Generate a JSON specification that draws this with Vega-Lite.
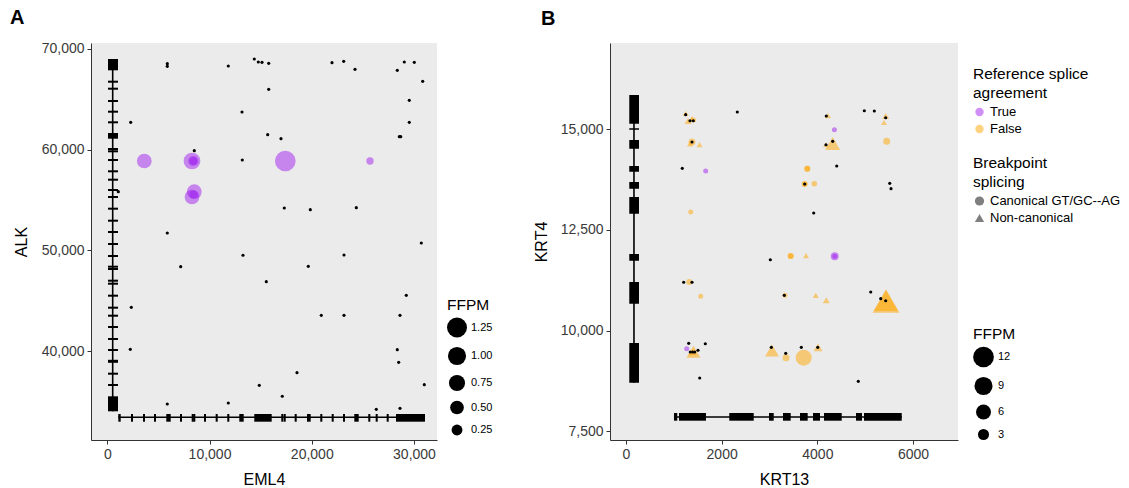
{
  "$schema": "https://vega.github.io/schema/vega-lite/v6.json",
  "padding": {"left": 10, "top": 7, "right": 0, "bottom": 0},
  "spacing": 173,
  "bounds": "flush",
  "config": {
    "view": {"fill": "#EBEBEB", "stroke": null},
    "font": "Liberation Sans",
    "axis": {"grid": false, "domainColor": "#333333", "domainWidth": 1, "tickColor": "#333333", "tickSize": 4, "labelColor": "#3A3A3A", "labelFontSize": 14, "labelPadding": 3, "titleFontSize": 16, "titleFontWeight": "normal", "titleColor": "#000000"},
    "legend": {"titleFontSize": 15.5, "titleFontWeight": "normal", "titleColor": "#000000", "labelColor": "#000000", "titleLineHeight": 19, "titlePadding": 4},
    "title": {"fontSize": 20, "fontWeight": "bold", "anchor": "start", "frame": "group", "color": "#000000"}
  },
  "resolve": {"scale": {"size": "independent", "x": "independent", "y": "independent", "color": "independent", "shape": "independent"}, "legend": {"size": "independent", "color": "independent", "shape": "independent"}},
  "datasets": {
    "a_dots": [
      {"x":5869,"y":68540},{"x":5869,"y":68282},{"x":11836,"y":68311},{"x":14379,"y":69007},{"x":14771,"y":68709},{"x":15133,"y":68679},{"x":15788,"y":68580},{"x":21980,"y":68639},{"x":23124,"y":68778},{"x":24230,"y":67983},{"x":28367,"y":67884},{"x":29052,"y":68709},{"x":30030,"y":68679},{"x":30852,"y":66791},{"x":15788,"y":65997},{"x":13176,"y":63742},{"x":29541,"y":64904},{"x":2289,"y":62719},{"x":29541,"y":62719},{"x":15690,"y":61487},{"x":16991,"y":61090},{"x":28566,"y":61289},{"x":28703,"y":61289},{"x":8510,"y":59898},{"x":13206,"y":58974},{"x":1076,"y":55825},{"x":17314,"y":54207},{"x":19857,"y":54037},{"x":24357,"y":54236},{"x":5869,"y":51722},{"x":30715,"y":50729},{"x":13274,"y":49508},{"x":23154,"y":49537},{"x":7180,"y":48375},{"x":19662,"y":48415},{"x":15553,"y":46885},{"x":29248,"y":45534},{"x":2348,"y":44342},{"x":20933,"y":43547},{"x":23154,"y":43547},{"x":28631,"y":43547},{"x":2250,"y":40170},{"x":28367,"y":40130},{"x":28504,"y":38878},{"x":18556,"y":37846},{"x":14868,"y":36594},{"x":31008,"y":36654},{"x":17118,"y":35502},{"x":5869,"y":34737},{"x":11836,"y":34836},{"x":26313,"y":34210},{"x":28631,"y":34309}
    ],
    "a_fus": [
      {"x":3619,"y":58875,"ffpm":0.6,"agree":"True"},{"x":8285,"y":58875,"ffpm":0.82,"agree":"True"},{"x":8412,"y":58875,"ffpm":0.2,"agree":"True"},{"x":8412,"y":58875,"ffpm":0.04,"agree":"True"},{"x":17412,"y":58875,"ffpm":1.35,"agree":"True"},{"x":25697,"y":58875,"ffpm":0.02,"agree":"True"},{"x":8510,"y":55825,"ffpm":0.6,"agree":"True"},{"x":8285,"y":55298,"ffpm":0.6,"agree":"True"},{"x":8450,"y":55550,"ffpm":0.06,"agree":"True"}
    ],
    "a_alk": [
      {"s":67884,"e":69007},{"s":66652,"e":66852},{"s":65956,"e":66156},{"s":64735,"e":64935},{"s":63672,"e":63872},{"s":62619,"e":62819},{"s":61090,"e":61656},{"s":59967,"e":60167},{"s":59738,"e":59938},{"s":58874,"e":59074},{"s":57751,"e":57951},{"s":56917,"e":57117},{"s":55894,"e":56094},{"s":55198,"e":55398},{"s":54037,"e":54237},{"s":52845,"e":53045},{"s":51722,"e":51922},{"s":50530,"e":50730},{"s":49338,"e":49538},{"s":48275,"e":48475},{"s":48047,"e":48247},{"s":46884,"e":47084},{"s":46586,"e":46786},{"s":45395,"e":45595},{"s":44203,"e":44403},{"s":43408,"e":43608},{"s":42286,"e":42486},{"s":41094,"e":41294},{"s":40001,"e":40201},{"s":38828,"e":39128},{"s":37647,"e":37847},{"s":36524,"e":36724},{"s":34011,"e":35500}
    ],
    "a_eml4": [
      {"s":1076,"e":1311},{"s":2316,"e":2516},{"s":3490,"e":3690},{"s":4566,"e":4766},{"s":5771,"e":6202},{"s":7109,"e":7309},{"s":8254,"e":8454},{"s":8410,"e":8610},{"s":9457,"e":9657},{"s":10601,"e":10801},{"s":11736,"e":11936},{"s":12912,"e":13343},{"s":14379,"e":16081},{"s":17018,"e":17218},{"s":17253,"e":17453},{"s":18329,"e":18529},{"s":19534,"e":19896},{"s":20833,"e":21033},{"s":21948,"e":22148},{"s":23054,"e":23254},{"s":24161,"e":24592},{"s":25528,"e":25728},{"s":26252,"e":26452},{"s":27328,"e":27528},{"s":28240,"e":31077}
    ],
    "b_dots": [
      {"x":1248,"y":15355},{"x":1338,"y":15206},{"x":1407,"y":15206},{"x":2327,"y":15422},{"x":1380,"y":14677},{"x":1177,"y":14025},{"x":4187,"y":15323},{"x":4321,"y":14695},{"x":4181,"y":14610},{"x":4982,"y":15454},{"x":5191,"y":15447},{"x":5429,"y":15280},{"x":4405,"y":14082},{"x":3736,"y":13635},{"x":5513,"y":13653},{"x":5540,"y":13519},{"x":3924,"y":12916},{"x":3017,"y":11757},{"x":1206,"y":11197},{"x":1380,"y":11197},{"x":3309,"y":10874},{"x":5116,"y":10956},{"x":5325,"y":10790},{"x":5429,"y":10740},{"x":1311,"y":9683},{"x":1658,"y":9673},{"x":1344,"y":9467},{"x":1394,"y":9467},{"x":1436,"y":9467},{"x":1505,"y":9510},{"x":3038,"y":9584},{"x":3339,"y":9435},{"x":3665,"y":9584},{"x":4008,"y":9584},{"x":1541,"y":8822},{"x":4856,"y":8740}
    ],
    "b_fus": [
      {"x":1248,"y":15385,"ffpm":0.47,"agree":"False","splice":"Non-canonical"},
      {"x":1296,"y":15198,"ffpm":0.85,"agree":"False","splice":"Non-canonical"},
      {"x":1380,"y":15248,"ffpm":0.85,"agree":"False","splice":"Non-canonical"},
      {"x":1411,"y":15223,"ffpm":0.15,"agree":"False","splice":"Canonical GT/GC--AG"},
      {"x":1380,"y":14677,"ffpm":0.85,"agree":"False","splice":"Canonical GT/GC--AG"},
      {"x":1338,"y":14628,"ffpm":0.47,"agree":"False","splice":"Non-canonical"},
      {"x":1537,"y":14615,"ffpm":0.47,"agree":"False","splice":"Non-canonical"},
      {"x":1666,"y":13958,"ffpm":0.15,"agree":"True","splice":"Canonical GT/GC--AG"},
      {"x":1353,"y":12941,"ffpm":0.15,"agree":"False","splice":"Canonical GT/GC--AG"},
      {"x":4223,"y":15330,"ffpm":0.47,"agree":"False","splice":"Non-canonical"},
      {"x":4357,"y":14983,"ffpm":0.15,"agree":"True","splice":"Canonical GT/GC--AG"},
      {"x":4321,"y":14640,"ffpm":6.0,"agree":"False","splice":"Non-canonical"},
      {"x":4181,"y":14610,"ffpm":0.47,"agree":"False","splice":"Non-canonical"},
      {"x":5429,"y":15323,"ffpm":0.85,"agree":"False","splice":"Non-canonical"},
      {"x":5394,"y":15161,"ffpm":0.47,"agree":"False","splice":"Non-canonical"},
      {"x":5450,"y":14695,"ffpm":0.85,"agree":"False","splice":"Canonical GT/GC--AG"},
      {"x":3790,"y":14015,"ffpm":0.47,"agree":"False","splice":"Canonical GT/GC--AG"},
      {"x":3790,"y":14015,"ffpm":0.37,"agree":"False","splice":"Canonical GT/GC--AG"},
      {"x":3736,"y":13635,"ffpm":0.47,"agree":"False","splice":"Canonical GT/GC--AG"},
      {"x":3736,"y":13635,"ffpm":0.18,"agree":"False","splice":"Canonical GT/GC--AG"},
      {"x":3936,"y":13643,"ffpm":0.3,"agree":"False","splice":"Canonical GT/GC--AG"},
      {"x":3443,"y":11849,"ffpm":0.47,"agree":"False","splice":"Canonical GT/GC--AG"},
      {"x":3443,"y":11849,"ffpm":0.37,"agree":"False","splice":"Canonical GT/GC--AG"},
      {"x":3763,"y":11857,"ffpm":0.47,"agree":"False","splice":"Non-canonical"},
      {"x":4363,"y":11842,"ffpm":1.29,"agree":"True","splice":"Canonical GT/GC--AG"},
      {"x":4363,"y":11842,"ffpm":0.15,"agree":"True","splice":"Canonical GT/GC--AG"},
      {"x":1323,"y":11204,"ffpm":0.47,"agree":"False","splice":"Canonical GT/GC--AG"},
      {"x":1562,"y":10849,"ffpm":0.15,"agree":"False","splice":"Canonical GT/GC--AG"},
      {"x":3324,"y":10874,"ffpm":0.15,"agree":"False","splice":"Canonical GT/GC--AG"},
      {"x":3966,"y":10874,"ffpm":0.47,"agree":"False","splice":"Non-canonical"},
      {"x":4187,"y":10750,"ffpm":0.85,"agree":"False","splice":"Non-canonical"},
      {"x":5435,"y":10733,"ffpm":20.75,"agree":"False","splice":"Non-canonical"},
      {"x":5435,"y":10740,"ffpm":16.3,"agree":"False","splice":"Non-canonical"},
      {"x":1269,"y":9549,"ffpm":0.15,"agree":"True","splice":"Canonical GT/GC--AG"},
      {"x":1411,"y":9475,"ffpm":5.15,"agree":"False","splice":"Non-canonical"},
      {"x":1390,"y":9470,"ffpm":1.29,"agree":"False","splice":"Non-canonical"},
      {"x":3052,"y":9505,"ffpm":5.15,"agree":"False","splice":"Non-canonical"},
      {"x":3345,"y":9326,"ffpm":0.85,"agree":"False","splice":"Canonical GT/GC--AG"},
      {"x":3715,"y":9326,"ffpm":6.9,"agree":"False","splice":"Canonical GT/GC--AG"},
      {"x":4014,"y":9580,"ffpm":1.79,"agree":"False","splice":"Non-canonical"}
    ],
    "b_krt4": [
      {"s":15131,"e":15844},{"s":14983,"e":15017},{"s":14511,"e":14727},{"s":13941,"e":14082},{"s":13519,"e":13685},{"s":12899,"e":13313},{"s":11733,"e":11899},{"s":10666,"e":11204},{"s":8706,"e":9690}
    ],
    "b_krt13": [
      {"s":1003,"e":1072},{"s":1108,"e":1672},{"s":2159,"e":2670},{"s":2989,"e":3088},{"s":3282,"e":3443},{"s":3638,"e":3798},{"s":3909,"e":4056},{"s":4139,"e":4509},{"s":4808,"e":4934},{"s":4975,"e":5764}
    ]
  },
  "hconcat": [
    {
      "width": 346,
      "height": 397,
      "title": {"text": "A", "dx": -81, "offset": 14},
      "layer": [
        {
          "data": {"name": "a_alk"},
          "mark": {"type": "rule", "color": "black", "strokeWidth": 1.6},
          "encoding": {
            "x": {"datum": 528, "type": "quantitative", "title": "EML4", "scale": {"domain": [-1594, 32251], "nice": false, "zero": false}, "axis": {"values": [0, 10000, 20000, 30000], "format": ",d", "titlePadding": 10}},
            "y": {"aggregate": "min", "field": "s", "type": "quantitative", "title": "ALK", "scale": {"domain": [31160, 70596], "nice": false, "zero": false}, "axis": {"values": [40000, 50000, 60000, 70000], "format": ",d", "titlePadding": 12}},
            "y2": {"aggregate": "max", "field": "e"}
          }
        },
        {
          "data": {"name": "a_alk"},
          "mark": {"type": "rect", "color": "black"},
          "encoding": {
            "x": {"datum": 68, "type": "quantitative", "title": "EML4"},
            "x2": {"datum": 1047},
            "y": {"field": "s", "type": "quantitative", "title": "ALK"},
            "y2": {"field": "e"}
          }
        },
        {
          "data": {"name": "a_eml4"},
          "mark": {"type": "rule", "color": "black", "strokeWidth": 1.6},
          "encoding": {
            "x": {"aggregate": "min", "field": "s", "type": "quantitative", "title": "EML4"},
            "x2": {"aggregate": "max", "field": "e"},
            "y": {"datum": 33415, "type": "quantitative", "title": "ALK"}
          }
        },
        {
          "data": {"name": "a_eml4"},
          "mark": {"type": "rect", "color": "black"},
          "encoding": {
            "x": {"field": "s", "type": "quantitative", "title": "EML4"},
            "x2": {"field": "e"},
            "y": {"datum": 32978, "type": "quantitative", "title": "ALK"},
            "y2": {"datum": 33743}
          }
        },
        {
          "data": {"name": "a_fus"},
          "mark": {"type": "point", "filled": true, "shape": "circle", "opacity": 0.5, "strokeWidth": 0},
          "encoding": {
            "x": {"field": "x", "type": "quantitative", "title": "EML4"},
            "y": {"field": "y", "type": "quantitative", "title": "ALK"},
            "color": {"field": "agree", "type": "nominal", "scale": {"domain": ["True", "False"], "range": ["#A020F0", "#FFA500"]}, "legend": null},
            "size": {"field": "ffpm", "type": "quantitative", "title": "FFPM", "scale": {"domain": [0, 1.25], "range": [48, 400], "zero": false, "nice": false},
              "legend": {"values": [1.25, 1, 0.75, 0.5, 0.25], "format": ".2f", "orient": "none", "legendX": 356, "legendY": 255, "symbolType": "circle", "symbolFillColor": "#000000", "symbolStrokeWidth": 0, "symbolOpacity": 1, "labelFontSize": 11, "rowPadding": 9, "labelOffset": 4}}
          }
        },
        {
          "data": {"name": "a_dots"},
          "mark": {"type": "point", "filled": true, "shape": "circle", "color": "#000000", "opacity": 1, "size": 10, "strokeWidth": 0},
          "encoding": {
            "x": {"field": "x", "type": "quantitative", "title": "EML4"},
            "y": {"field": "y", "type": "quantitative", "title": "ALK"}
          }
        }
      ]
    },
    {
      "width": 348,
      "height": 397,
      "title": {"text": "B", "dx": -69, "offset": 14},
      "layer": [
        {
          "data": {"name": "b_krt4"},
          "mark": {"type": "rule", "color": "black", "strokeWidth": 1.6},
          "encoding": {
            "x": {"datum": 167, "type": "quantitative", "title": "KRT13", "scale": {"domain": [-334, 6940], "nice": false, "zero": false}, "axis": {"values": [0, 2000, 4000, 6000], "format": "d", "titlePadding": 10}},
            "y": {"aggregate": "min", "field": "s", "type": "quantitative", "title": "KRT4", "scale": {"domain": [7284, 17134], "nice": false, "zero": false}, "axis": {"values": [7500, 10000, 12500, 15000], "format": ",d", "titlePadding": 11}},
            "y2": {"aggregate": "max", "field": "e"}
          }
        },
        {
          "data": {"name": "b_krt4"},
          "mark": {"type": "rect", "color": "black"},
          "encoding": {
            "x": {"datum": 69, "type": "quantitative", "title": "KRT13"},
            "x2": {"datum": 272},
            "y": {"field": "s", "type": "quantitative", "title": "KRT4"},
            "y2": {"field": "e"}
          }
        },
        {
          "data": {"name": "b_krt13"},
          "mark": {"type": "rule", "color": "black", "strokeWidth": 1.6},
          "encoding": {
            "x": {"aggregate": "min", "field": "s", "type": "quantitative", "title": "KRT13"},
            "x2": {"aggregate": "max", "field": "e"},
            "y": {"datum": 7855, "type": "quantitative", "title": "KRT4"}
          }
        },
        {
          "data": {"name": "b_krt13"},
          "mark": {"type": "rect", "color": "black"},
          "encoding": {
            "x": {"field": "s", "type": "quantitative", "title": "KRT13"},
            "x2": {"field": "e"},
            "y": {"datum": 7763, "type": "quantitative", "title": "KRT4"},
            "y2": {"datum": 7954}
          }
        },
        {
          "data": {"name": "b_fus"},
          "mark": {"type": "point", "filled": true, "opacity": 0.5, "strokeWidth": 0},
          "encoding": {
            "x": {"field": "x", "type": "quantitative", "title": "KRT13"},
            "y": {"field": "y", "type": "quantitative", "title": "KRT4"},
            "color": {"field": "agree", "type": "nominal", "title": ["Reference splice", "agreement"], "scale": {"domain": ["True", "False"], "range": ["#A020F0", "#FFA500"]},
              "legend": {"orient": "none", "legendX": 363, "legendY": 24, "symbolType": "circle", "symbolSize": 70, "symbolOpacity": 0.5, "symbolStrokeWidth": 0, "labelFontSize": 13, "rowPadding": 3, "labelOffset": 4}},
            "shape": {"field": "splice", "type": "nominal", "title": ["Breakpoint", "splicing"], "scale": {"domain": ["Canonical GT/GC--AG", "Non-canonical"], "range": ["circle", "triangle-up"]},
              "legend": {"orient": "none", "legendX": 363, "legendY": 113, "symbolSize": 85, "symbolFillColor": "#7F7F7F", "symbolOpacity": 1, "symbolStrokeWidth": 0, "labelFontSize": 13, "rowPadding": 3, "labelOffset": 4}},
            "size": {"field": "ffpm", "type": "quantitative", "title": "FFPM", "scale": {"domain": [0, 12], "range": [20, 430], "zero": false, "nice": false},
              "legend": {"values": [12, 9, 6, 3], "format": "d", "orient": "none", "legendX": 363, "legendY": 284, "symbolType": "circle", "symbolFillColor": "#000000", "symbolStrokeWidth": 0, "symbolOpacity": 1, "labelFontSize": 11, "rowPadding": 9, "labelOffset": 4}}
          }
        },
        {
          "data": {"name": "b_dots"},
          "mark": {"type": "point", "filled": true, "shape": "circle", "color": "#000000", "opacity": 1, "size": 10, "strokeWidth": 0},
          "encoding": {
            "x": {"field": "x", "type": "quantitative", "title": "KRT13"},
            "y": {"field": "y", "type": "quantitative", "title": "KRT4"}
          }
        }
      ]
    }
  ]
}
